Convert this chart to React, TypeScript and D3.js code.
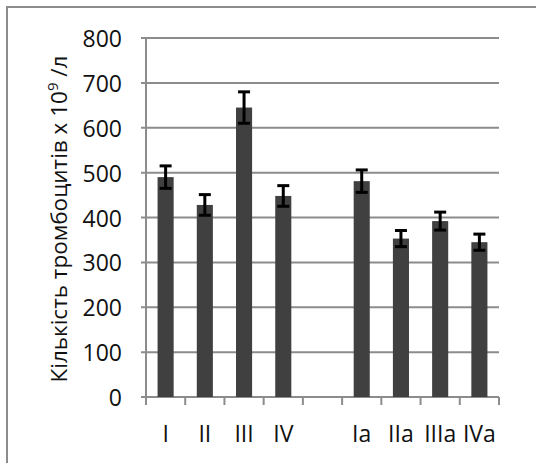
import * as d3 from "d3";

const WIDTH = 536;
const HEIGHT = 463;
const MARGIN = { top: 38, right: 37, bottom: 66, left: 146 };

// "" is the empty slot between the two groups
const categories = ["I", "II", "III", "IV", "", "Ia", "IIa", "IIIa", "IVa"];
const values: (number | null)[] = [490, 428, 645, 448, null, 481, 353, 392, 345];
const errors: (number | null)[] = [25, 23, 35, 23, null, 25, 18, 20, 18];
const yTicks = [0, 100, 200, 300, 400, 500, 600, 700, 800];

const FONT = "'Open Sans', 'Noto Sans', sans-serif";
const GRID = "#8c8c8c";

const App = () => {
  const boundsWidth = WIDTH - MARGIN.left - MARGIN.right;
  const boundsHeight = HEIGHT - MARGIN.top - MARGIN.bottom;

  const xScale = d3
    .scaleBand()
    .domain(categories.map((c, i) => String(i)))
    .range([0, boundsWidth])
    .padding(0);

  const yScale = d3.scaleLinear().domain([0, 800]).range([boundsHeight, 0]);

  const step = xScale.step();
  const barWidth = step * 0.41;
  const capWidth = 12;

  const tickXs = categories.map((_, i) => xScale(String(i)) as number).concat(boundsWidth);

  return (
    <svg
      width={WIDTH}
      height={HEIGHT}
      style={{ position: "absolute", left: 0, top: 0, background: "#fff" }}
    >
      <rect x={7} y={7} width={WIDTH} height={HEIGHT} fill="none" stroke={GRID} strokeWidth={2} />

      <text
        transform={`translate(58, 219) rotate(-90)`}
        textAnchor="middle"
        dominantBaseline="central"
        fontFamily={FONT}
        fontSize={22.5}
        fill="#111"
      >
        Кількість тромбоцитів x 10
        <tspan dy={-6} fontSize={15}>9</tspan>
        <tspan dy={6}> /л</tspan>
      </text>

      <g transform={`translate(${MARGIN.left},${MARGIN.top})`}>
        {yTicks.map((t) => (
          <g key={t}>
            <line x1={-5} x2={boundsWidth} y1={yScale(t)} y2={yScale(t)} stroke={GRID} strokeWidth={2} />
            <text
              x={-24}
              y={yScale(t)}
              textAnchor="end"
              dominantBaseline="central"
              fontFamily={FONT}
              fontSize={23}
              fill="#111"
            >
              {t}
            </text>
          </g>
        ))}

        <line x1={0} x2={0} y1={0} y2={boundsHeight} stroke={GRID} strokeWidth={2} />
        {tickXs.map((x, i) => (
          <line key={i} x1={x} x2={x} y1={boundsHeight} y2={boundsHeight + 8} stroke={GRID} strokeWidth={2} />
        ))}

        {values.map((v, i) => {
          if (v === null) return null;
          const cx = (xScale(String(i)) as number) + step / 2;
          return (
            <rect
              key={i}
              x={cx - barWidth / 2}
              width={barWidth}
              y={yScale(v)}
              height={boundsHeight - yScale(v)}
              fill="#404040"
            />
          );
        })}

        {values.map((v, i) => {
          const e = errors[i];
          if (v === null || e === null) return null;
          const cx = (xScale(String(i)) as number) + step / 2;
          const hi = yScale(v + e);
          const lo = yScale(v - e);
          return (
            <g key={i} stroke="#000" strokeWidth={3}>
              <line x1={cx} x2={cx} y1={hi} y2={lo} />
              <line x1={cx - capWidth / 2} x2={cx + capWidth / 2} y1={hi} y2={hi} />
              <line x1={cx - capWidth / 2} x2={cx + capWidth / 2} y1={lo} y2={lo} />
            </g>
          );
        })}

        {categories.map((c, i) => (
          <text
            key={i}
            x={(xScale(String(i)) as number) + step / 2}
            y={boundsHeight + 45}
            textAnchor="middle"
            fontFamily={FONT}
            fontSize={23}
            fill="#111"
          >
            {c}
          </text>
        ))}
      </g>
    </svg>
  );
};

export default App;
